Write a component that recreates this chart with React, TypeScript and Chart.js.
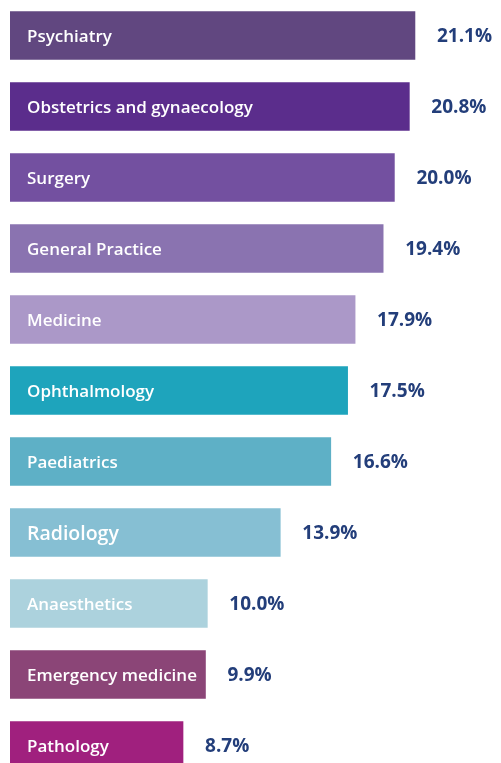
import React, { useEffect, useRef } from "react";
import { Chart, registerables } from "chart.js";

Chart.register(...registerables);

const categories = [
  "Psychiatry",
  "Obstetrics and gynaecology",
  "Surgery",
  "General Practice",
  "Medicine",
  "Ophthalmology",
  "Paediatrics",
  "Radiology",
  "Anaesthetics",
  "Emergency medicine",
  "Pathology",
];

const values = [21.1, 20.8, 20.0, 19.4, 17.9, 17.5, 16.6, 13.9, 10.0, 9.9, 8.7];

const valueLabels = values.map((v) => v.toFixed(1) + "%");

const barColors = [
  "#614780",
  "#5b2d8c",
  "#7350a0",
  "#8a73b0",
  "#ab98c8",
  "#1ea4bc",
  "#5eb0c6",
  "#86bfd3",
  "#acd2dd",
  "#8b4577",
  "#a0207e",
];

const AXIS_MIN = -0.55;
const AXIS_MAX = 25.7;
const FONT = '"Open Sans", "Noto Sans", sans-serif';
const VALUE_COLOR = "#233e7a";

const labelPlugin = {
  id: "barLabels",
  afterDatasetsDraw(chart: any) {
    const ctx = chart.ctx;
    const meta = chart.getDatasetMeta(0);
    ctx.save();
    meta.data.forEach((bar: any, i: number) => {
      const size = categories[i] === "Radiology" ? 19.5 : 17;
      ctx.font = `600 ${size}px ${FONT}`;
      ctx.fillStyle = "#ffffff";
      ctx.textAlign = "left";
      ctx.textBaseline = "alphabetic";
      ctx.fillText(categories[i], bar.base + 17, bar.y + size * 0.36);

      const vs = 19;
      ctx.font = `700 ${vs}px ${FONT}`;
      ctx.fillStyle = VALUE_COLOR;
      ctx.fillText(valueLabels[i], bar.x + 22, bar.y + vs * 0.36);
    });
    ctx.restore();
  },
};

export default function App() {
  const canvasRef = useRef<HTMLCanvasElement | null>(null);

  useEffect(() => {
    document.body.style.margin = "0";
    const canvas = canvasRef.current;
    if (!canvas) return;
    const chart = new Chart(canvas, {
      type: "bar",
      data: {
        labels: categories,
        datasets: [
          {
            data: values,
            backgroundColor: barColors,
            borderWidth: 0,
            barThickness: 48,
            base: AXIS_MIN,
          } as any,
        ],
      },
      options: {
        indexAxis: "y",
        animation: false,
        responsive: true,
        maintainAspectRatio: false,
        layout: { padding: { left: 10, right: 0, top: 0, bottom: 0 } },
        plugins: {
          legend: { display: false },
          tooltip: { enabled: false },
        },
        scales: {
          x: { display: false, min: AXIS_MIN, max: AXIS_MAX },
          y: { display: false },
        },
      },
      plugins: [labelPlugin],
    });
    let alive = true;
    if ((document as any).fonts) {
      Promise.all([
        (document as any).fonts.load(`600 17px "Open Sans"`),
        (document as any).fonts.load(`700 19px "Open Sans"`),
      ]).then(() => {
        if (alive) chart.update();
      });
    }
    return () => {
      alive = false;
      chart.destroy();
    };
  }, []);

  return (
    <div style={{ width: 501, height: 763, overflow: "hidden", position: "relative", background: "#fff" }}>
      <div style={{ width: 501, height: 781, position: "relative" }}>
        <canvas ref={canvasRef} />
      </div>
    </div>
  );
}
